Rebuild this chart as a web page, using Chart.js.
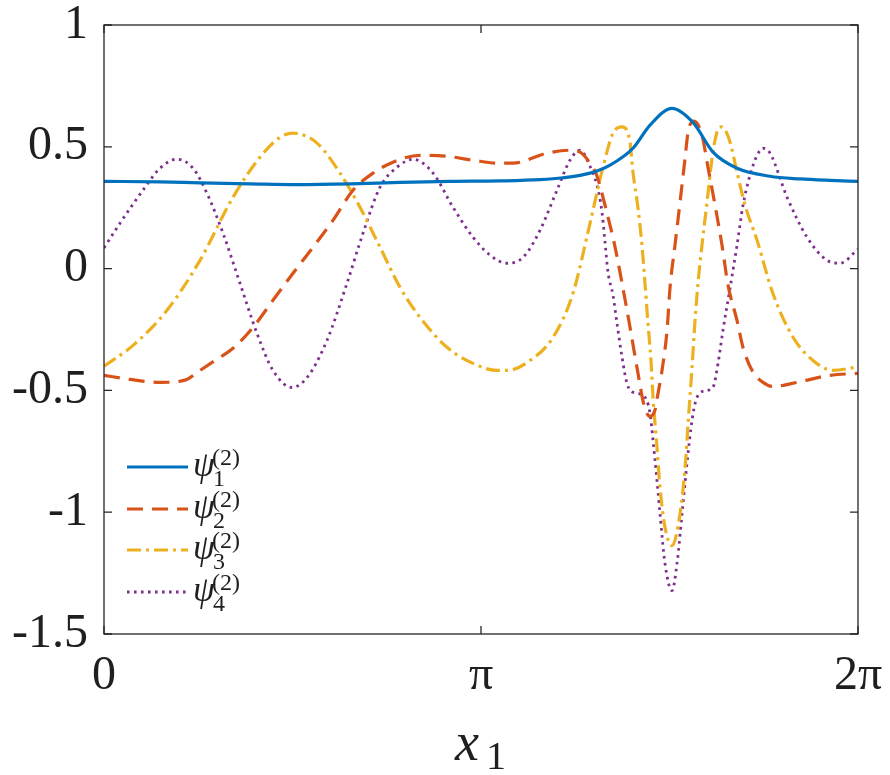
<!DOCTYPE html>
<html>
<head>
<meta charset="utf-8">
<script src="https://cdn.jsdelivr.net/npm/chart.js@4.4.1/dist/chart.umd.min.js"></script>
<style>
  html, body { margin: 0; padding: 0; background: #fff; }
  #wrap { width: 890px; height: 775px; }
</style>
</head>
<body>
<div id="wrap"><canvas id="modes" width="890" height="775"></canvas></div>
<script>
// x in radians
const psi1X = [0, 0.467, 0.800, 1.217, 1.608, 2.050, 2.467, 2.883, 3.300, 3.633, 3.825, 4.050, 4.217, 4.408, 4.550, 4.733, 4.908, 5.075, 5.275, 5.550, 5.800, 6.050, 6.283];
const psi1Y = [0.358, 0.356, 0.352, 0.348, 0.345, 0.348, 0.354, 0.358, 0.360, 0.365, 0.373, 0.392, 0.425, 0.494, 0.589, 0.658, 0.600, 0.478, 0.412, 0.379, 0.368, 0.362, 0.358];

const psi2X = [0, 0.217, 0.467, 0.675, 0.800, 0.925, 1.075, 1.242, 1.408, 1.575, 1.742, 1.908, 2.075, 2.242, 2.408, 2.633, 2.858, 3.075, 3.275, 3.408, 3.692, 3.883, 3.967, 4.050, 4.108, 4.175, 4.258, 4.317, 4.383, 4.450, 4.500, 4.550, 4.592, 4.617, 4.650, 4.692, 4.717, 4.758, 4.800, 4.842, 4.867, 4.917, 4.983, 5.033, 5.092, 5.150, 5.200, 5.275, 5.325, 5.408, 5.492, 5.575, 5.775, 6.050, 6.283];
const psi2Y = [-0.438, -0.455, -0.467, -0.458, -0.418, -0.377, -0.327, -0.241, -0.130, -0.019, 0.088, 0.198, 0.322, 0.392, 0.437, 0.465, 0.461, 0.445, 0.433, 0.433, 0.474, 0.486, 0.478, 0.433, 0.380, 0.260, 0.090, -0.060, -0.240, -0.430, -0.560, -0.607, -0.580, -0.512, -0.418, -0.253, -0.077, 0.096, 0.272, 0.453, 0.560, 0.605, 0.548, 0.416, 0.260, 0.096, -0.068, -0.213, -0.324, -0.425, -0.467, -0.484, -0.467, -0.438, -0.430];

const psi3X = [0, 0.242, 0.525, 0.800, 1.075, 1.300, 1.467, 1.575, 1.775, 1.967, 2.133, 2.300, 2.467, 2.633, 2.858, 3.075, 3.275, 3.358, 3.550, 3.742, 3.908, 4.050, 4.158, 4.242, 4.317, 4.383, 4.408, 4.450, 4.483, 4.508, 4.533, 4.558, 4.575, 4.608, 4.633, 4.675, 4.733, 4.800, 4.842, 4.867, 4.900, 4.925, 4.950, 4.983, 5.025, 5.067, 5.108, 5.150, 5.217, 5.275, 5.342, 5.442, 5.575, 5.742, 5.908, 6.075, 6.283];
const psi3Y = [-0.401, -0.315, -0.171, 0.034, 0.293, 0.457, 0.539, 0.556, 0.515, 0.392, 0.252, 0.088, -0.077, -0.200, -0.323, -0.389, -0.418, -0.418, -0.377, -0.282, -0.101, 0.186, 0.416, 0.556, 0.582, 0.519, 0.396, 0.248, 0.096, -0.060, -0.225, -0.377, -0.528, -0.733, -0.897, -1.062, -1.137, -1.007, -0.818, -0.637, -0.407, -0.214, -0.060, 0.096, 0.272, 0.453, 0.560, 0.582, 0.519, 0.396, 0.260, 0.116, -0.103, -0.282, -0.377, -0.418, -0.403];

const psi4X = [0, 0.133, 0.325, 0.467, 0.608, 0.742, 0.858, 0.992, 1.133, 1.275, 1.408, 1.567, 1.692, 1.858, 2.025, 2.158, 2.300, 2.442, 2.575, 2.742, 2.908, 3.075, 3.217, 3.358, 3.492, 3.633, 3.775, 3.883, 3.967, 4.050, 4.108, 4.150, 4.175, 4.200, 4.242, 4.275, 4.317, 4.358, 4.408, 4.492, 4.550, 4.575, 4.608, 4.633, 4.675, 4.733, 4.775, 4.817, 4.858, 4.900, 4.942, 5.025, 5.075, 5.117, 5.158, 5.217, 5.275, 5.325, 5.383, 5.442, 5.492, 5.550, 5.692, 5.858, 6.025, 6.133, 6.283];
const psi4Y = [0.085, 0.186, 0.322, 0.412, 0.449, 0.412, 0.309, 0.145, -0.060, -0.266, -0.418, -0.488, -0.447, -0.295, -0.060, 0.145, 0.334, 0.416, 0.449, 0.392, 0.252, 0.129, 0.055, 0.022, 0.046, 0.157, 0.322, 0.445, 0.486, 0.420, 0.342, 0.231, 0.108, -0.015, -0.110, -0.225, -0.364, -0.471, -0.508, -0.520, -0.594, -0.705, -0.869, -1.005, -1.211, -1.322, -1.211, -1.005, -0.800, -0.623, -0.528, -0.500, -0.487, -0.389, -0.253, -0.080, 0.096, 0.260, 0.383, 0.465, 0.494, 0.474, 0.293, 0.129, 0.034, 0.022, 0.080];

const xTickVals = [0, Math.PI, 2 * Math.PI];
const xTickLabels = ['0', '\u03C0', '2\u03C0'];
const yTickVals = [-1.5, -1, -0.5, 0, 0.5, 1];
const seriesSubs = ['1', '2', '3', '4'];

const SERIF = "'Liberation Serif', 'DejaVu Serif', serif";
const INK = '#1f1f1f';
const AXIS = '#262626';

function pts(xs, ys) {
  return xs.map((x, i) => ({ x, y: ys[i] }));
}

function ds(xs, ys, color, dash, width) {
  return {
    data: pts(xs, ys),
    borderColor: color,
    borderWidth: width,
    borderDash: dash,
    borderCapStyle: 'butt',
    pointRadius: 0,
    cubicInterpolationMode: 'monotone',
    fill: false
  };
}

// box, inward ticks, legend and x label (MATLAB look)
const decor = {
  id: 'decor',
  afterDatasetsDraw(chart) {
    const { ctx, chartArea: a, scales } = chart;
    const tl = 8;
    ctx.save();
    ctx.strokeStyle = AXIS;
    ctx.lineWidth = 1.3;
    ctx.setLineDash([]);
    ctx.strokeRect(a.left, a.top, a.right - a.left, a.bottom - a.top);
    ctx.beginPath();
    yTickVals.forEach(v => {
      const y = scales.y.getPixelForValue(v);
      ctx.moveTo(a.left, y); ctx.lineTo(a.left + tl, y);
      ctx.moveTo(a.right, y); ctx.lineTo(a.right - tl, y);
    });
    xTickVals.forEach(v => {
      const x = scales.x.getPixelForValue(v);
      ctx.moveTo(x, a.bottom); ctx.lineTo(x, a.bottom - tl);
      ctx.moveTo(x, a.top); ctx.lineTo(x, a.top + tl);
    });
    ctx.stroke();

    // legend
    const lx0 = a.left + 23, lx1 = a.left + 84;
    const rows = [467, 509, 550, 592];
    chart.data.datasets.forEach((d, i) => {
      const y = rows[i];
      ctx.strokeStyle = d.borderColor;
      ctx.lineWidth = d.borderWidth;
      ctx.setLineDash(d.borderDash || []);
      ctx.beginPath();
      ctx.moveTo(lx0, y); ctx.lineTo(lx1, y);
      ctx.stroke();
      ctx.setLineDash([]);
      ctx.fillStyle = INK;
      ctx.textBaseline = 'alphabetic';
      ctx.textAlign = 'left';
      ctx.font = 'italic 35px ' + SERIF;
      ctx.fillText('\u03C8', lx1 + 5, y + 9);
      ctx.font = '24px ' + SERIF;
      ctx.fillText(seriesSubs[i], lx1 + 25, y + 19);
      ctx.fillText('(2)', lx1 + 24, y - 2);
    });

    // x axis label
    ctx.fillStyle = INK;
    ctx.font = 'italic 54px ' + SERIF;
    ctx.textAlign = 'left';
    ctx.fillText('x', 455, 760);
    ctx.font = '40px ' + SERIF;
    ctx.fillText('1', 486, 769);
    ctx.restore();
  }
};

new Chart(document.getElementById('modes'), {
  type: 'line',
  data: {
    datasets: [
      ds(psi1X, psi1Y, '#0072BD', [], 3.2),
      ds(psi2X, psi2Y, '#D95319', [16, 9], 3.2),
      ds(psi3X, psi3Y, '#EDB120', [14, 5, 3, 5], 3.2),
      ds(psi4X, psi4Y, '#7E2F8E', [2.6, 4.4], 2.8)
    ]
  },
  options: {
    responsive: false,
    animation: false,
    devicePixelRatio: 1,
    layout: { padding: { top: 25, right: 32, left: 0, bottom: 0 } },
    plugins: { legend: { display: false }, tooltip: { enabled: false } },
    scales: {
      x: {
        type: 'linear',
        min: 0,
        max: 2 * Math.PI,
        grid: { display: false, drawTicks: false },
        border: { display: false },
        afterBuildTicks: s => { s.ticks = xTickVals.map(v => ({ value: v })); },
        afterFit: s => { s.height = 141; s.paddingLeft = 0; s.paddingRight = 0; },
        ticks: {
          autoSkip: false,
          maxRotation: 0,
          padding: 14,
          color: INK,
          font: { family: SERIF, size: 48 },
          callback: (v, i) => xTickLabels[i]
        }
      },
      y: {
        min: -1.5,
        max: 1,
        grid: { display: false, drawTicks: false },
        border: { display: false },
        afterBuildTicks: s => { s.ticks = yTickVals.map(v => ({ value: v })); },
        afterFit: s => { s.width = 104; s.paddingTop = 0; s.paddingBottom = 0; },
        ticks: {
          padding: 16,
          color: INK,
          font: { family: SERIF, size: 48 },
          callback: v => String(v)
        }
      }
    }
  },
  plugins: [decor]
});
</script>
</body>
</html>
